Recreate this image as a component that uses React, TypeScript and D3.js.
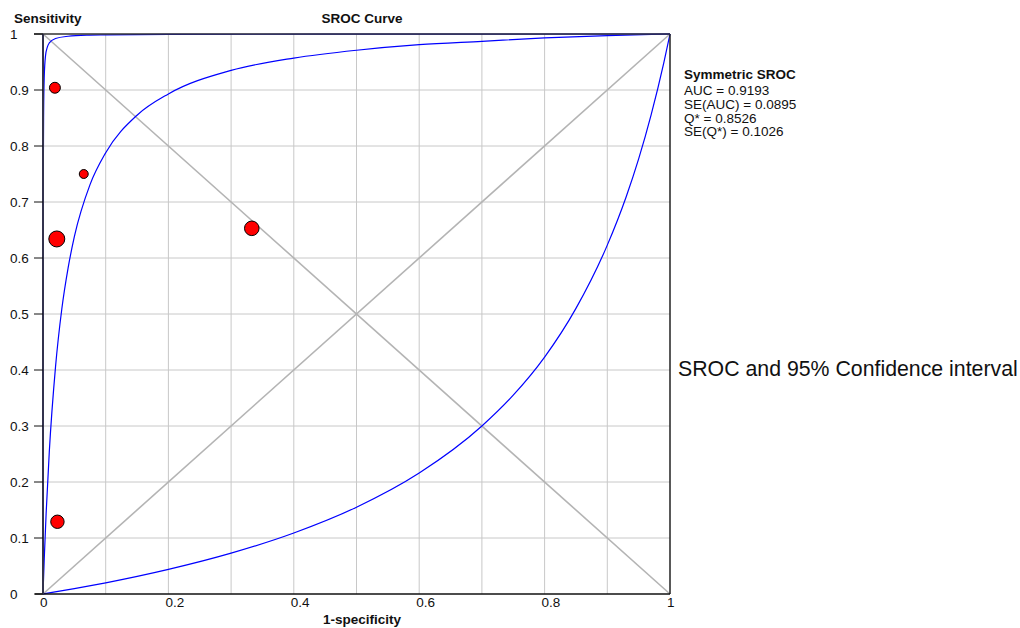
import React from 'react';
import * as d3 from 'd3';

// study points: 1-specificity, sensitivity, study weight
const studyFpr = [0.019, 0.065, 0.022, 0.333, 0.023];
const studySens = [0.904, 0.75, 0.634, 0.653, 0.129];
const studyWeight = [30, 20, 64, 53, 45];

// SROC curve and confidence band
const srocX = [0, 0.002, 0.005, 0.01, 0.02, 0.03, 0.04, 0.05, 0.075, 0.1, 0.15, 0.2, 0.3, 0.4, 0.5, 0.6, 0.7, 0.8, 0.9, 1];
const srocY = [0, 0.063, 0.144, 0.253, 0.406, 0.509, 0.582, 0.638, 0.731, 0.788, 0.855, 0.893, 0.935, 0.957, 0.971, 0.981, 0.987, 0.993, 0.997, 1];

const upperX = [0, 0.0002, 0.0005, 0.001, 0.002, 0.004, 0.007, 0.01, 0.02, 0.04, 0.07, 0.1, 0.2, 0.5, 1];
const upperY = [0, 0.55, 0.753, 0.859, 0.924, 0.961, 0.977, 0.984, 0.992, 0.996, 0.998, 0.9985, 0.9993, 0.9998, 1];

const lowerX = [0, 0.05, 0.1, 0.2, 0.3, 0.4, 0.5, 0.6, 0.7, 0.75, 0.8, 0.85, 0.9, 0.93, 0.95, 0.97, 0.99, 1];
const lowerY = [0, 0.0096, 0.02, 0.044, 0.073, 0.109, 0.155, 0.216, 0.3, 0.355, 0.423, 0.51, 0.623, 0.709, 0.777, 0.856, 0.948, 1];

const xTicks = [0, 0.2, 0.4, 0.6, 0.8, 1];
const yTicks = [0, 0.1, 0.2, 0.3, 0.4, 0.5, 0.6, 0.7, 0.8, 0.9, 1];
const gridTicks = [0.1, 0.2, 0.3, 0.4, 0.5, 0.6, 0.7, 0.8, 0.9];

const statsTitle = 'Symmetric SROC';
const statsLines = ['AUC = 0.9193', 'SE(AUC) = 0.0895', 'Q* = 0.8526', 'SE(Q*) = 0.1026'];

const W = 1020;
const H = 628;
const left = 43;
const right = 670;
const top = 34;
const bottom = 594;
const font = '"Liberation Sans", Arial, sans-serif';

export default function App() {
  const x = d3.scaleLinear().domain([0, 1]).range([left, right]);
  const y = d3.scaleLinear().domain([0, 1]).range([bottom, top]);
  const r = d3.scaleSqrt().domain([0, 64]).range([0, 8]);

  const line = d3.line<[number, number]>()
    .x(d => x(d[0]))
    .y(d => y(d[1]))
    .curve(d3.curveMonotoneX);

  const zipPts = (xs: number[], ys: number[]) => xs.map((v, i) => [v, ys[i]] as [number, number]);

  const curves = [zipPts(upperX, upperY), zipPts(srocX, srocY), zipPts(lowerX, lowerY)];

  const order = d3.range(studyFpr.length).sort((a, b) => studyWeight[b] - studyWeight[a]);

  return (
    <svg width={W} height={H} style={{ position: 'absolute', left: 0, top: 0, background: '#fff' }} fontFamily={font}>
      <rect x={0} y={0} width={W} height={H} fill="#fff" />

      {/* grid */}
      {gridTicks.map(t => (
        <g key={'g' + t}>
          <line x1={x(t)} x2={x(t)} y1={top} y2={bottom} stroke="#c8c8c8" strokeWidth={1} />
          <line x1={left} x2={right} y1={y(t)} y2={y(t)} stroke="#c8c8c8" strokeWidth={1} />
        </g>
      ))}

      {/* diagonals */}
      <line x1={x(0)} y1={y(0)} x2={x(1)} y2={y(1)} stroke="#b4b4b4" strokeWidth={1.6} />
      <line x1={x(0)} y1={y(1)} x2={x(1)} y2={y(0)} stroke="#b4b4b4" strokeWidth={1.6} />

      {/* curves */}
      {curves.map((c, i) => (
        <path key={'c' + i} d={line(c) || ''} fill="none" stroke="#0000ff" strokeWidth={1.2} />
      ))}

      {/* frame */}
      <line x1={right} x2={right} y1={top} y2={bottom} stroke="#222" strokeWidth={1.5} />
      <line x1={left - 9} x2={right} y1={top} y2={top} stroke="#333" strokeWidth={1.5} />
      <line x1={left - 8} x2={right} y1={bottom} y2={bottom} stroke="#111" strokeWidth={1.5} />
      <line x1={left} x2={left} y1={top} y2={bottom} stroke="#33334d" strokeWidth={2} />

      {/* y ticks */}
      {yTicks.map(t => (
        <g key={'y' + t}>
          <line x1={left - 9} x2={left} y1={y(t)} y2={y(t)} stroke="#111" strokeWidth={1} />
          <text x={10} y={y(t)} dy="0.35em" fontSize={13.5} fill="#111">{t === 0 || t === 1 ? String(t) : t.toFixed(1)}</text>
        </g>
      ))}

      {/* x tick labels */}
      {xTicks.map(t => (
        <text key={'x' + t} x={x(t) - 3} y={607} fontSize={13.5} fill="#111">
          {t === 0 || t === 1 ? String(t) : t.toFixed(1)}
        </text>
      ))}

      {/* study points */}
      {order.map(i => (
        <circle key={'p' + i} cx={x(studyFpr[i])} cy={y(studySens[i])} r={r(studyWeight[i])}
          fill="#ff0000" stroke="#000" strokeWidth={1} />
      ))}

      {/* titles */}
      <text x={14} y={23} fontSize={13.5} fontWeight="bold" fill="#111">Sensitivity</text>
      <text x={362} y={23} fontSize={13.5} fontWeight="bold" textAnchor="middle" fill="#111">SROC Curve</text>
      <text x={362} y={624} fontSize={13.5} fontWeight="bold" textAnchor="middle" fill="#111">1-specificity</text>

      {/* stats */}
      <text x={684} y={79} fontSize={13.5} fontWeight="bold" fill="#111">{statsTitle}</text>
      {statsLines.map((s, i) => (
        <text key={'s' + i} x={684} y={95 + i * 13.8} fontSize={13.5} fill="#111">{s}</text>
      ))}

      <text x={678} y={376} fontSize={21.3} fill="#111">SROC and 95% Confidence interval</text>
    </svg>
  );
}
